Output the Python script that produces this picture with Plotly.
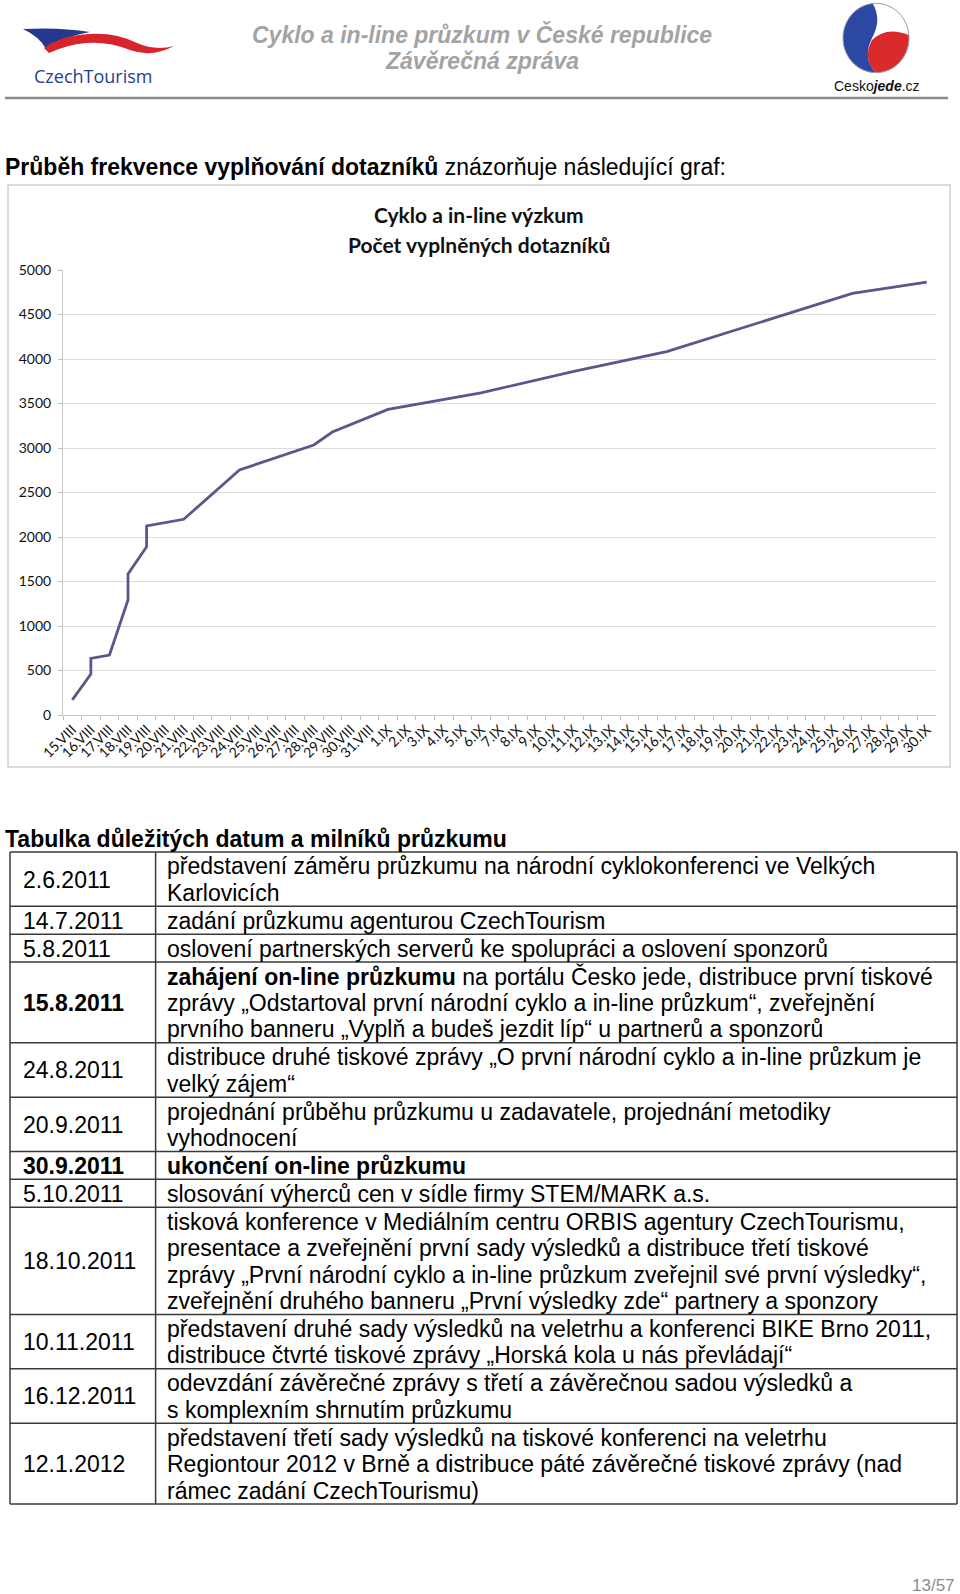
import math
import plotly.graph_objects as go

W, H = 960, 1594

# ---------------- chart data ----------------
day_labels = [f"{d}.VIII" for d in range(15, 32)] + [f"{d}.IX" for d in range(1, 31)]
obs_dates = ["15.VIII", "16.VIII", "16.VIII", "17.VIII", "18.VIII", "18.VIII", "19.VIII", "19.VIII",
             "21.VIII", "24.VIII", "28.VIII", "29.VIII", "1.IX", "6.IX", "11.IX", "16.IX", "26.IX", "30.IX"]
obs_counts = [170, 460, 637, 674, 1292, 1584, 1891, 2124,
              2199, 2753, 3034, 3180, 3434, 3620, 3860, 4082, 4738, 4865]
y_ticks = [0, 500, 1000, 1500, 2000, 2500, 3000, 3500, 4000, 4500, 5000]

# ---------------- table data ----------------
milestone_dates = ["2.6.2011", "14.7.2011", "5.8.2011", "15.8.2011", "24.8.2011", "20.9.2011",
                   "30.9.2011", "5.10.2011", "18.10.2011", "10.11.2011", "16.12.2011", "12.1.2012"]
milestone_bold = [False, False, False, True, False, False, True, False, False, False, False, False]
milestone_text = [
    ["představení záměru průzkumu na národní cyklokonferenci ve Velkých", "Karlovicích"],
    ["zadání průzkumu agenturou CzechTourism"],
    ["oslovení partnerských serverů ke spolupráci a oslovení sponzorů"],
    ["<b>zahájení on-line průzkumu</b> na portálu Česko jede, distribuce první tiskové",
     "zprávy „Odstartoval první národní cyklo a in-line průzkum“, zveřejnění",
     "prvního banneru „Vyplň a budeš jezdit líp“ u partnerů a sponzorů"],
    ["distribuce druhé tiskové zprávy „O první národní cyklo a in-line průzkum je", "velký zájem“"],
    ["projednání průběhu průzkumu u zadavatele, projednání metodiky", "vyhodnocení"],
    ["<b>ukončení on-line průzkumu</b>"],
    ["slosování výherců cen v sídle firmy STEM/MARK a.s."],
    ["tisková konference v Mediálním centru ORBIS agentury CzechTourismu,",
     "presentace a zveřejnění první sady výsledků a distribuce třetí tiskové",
     "zprávy „První národní cyklo a in-line průzkum zveřejnil své první výsledky“,",
     "zveřejnění druhého banneru „První výsledky zde“ partnery a sponzory"],
    ["představení druhé sady výsledků na veletrhu a konferenci BIKE Brno 2011,",
     "distribuce čtvrté tiskové zprávy „Horská kola u nás převládají“"],
    ["odevzdání závěrečné zprávy s třetí a závěrečnou sadou výsledků a",
     "s komplexním shrnutím průzkumu"],
    ["představení třetí sady výsledků na tiskové konferenci na veletrhu",
     "Regiontour 2012 v Brně a distribuce páté závěrečné tiskové zprávy (nad",
     "rámec zadání CzechTourismu)"],
]


def px(x):
    return x / W


def py(y):
    return 1 - y / H


def path(cmds):
    out = []
    for c in cmds:
        op, pts = c[0], c[1:]
        s = op
        for (x, y) in pts:
            s += f" {px(x):.5f},{py(y):.5f}"
        out.append(s)
    return " ".join(out) + " Z"


BODY = "Liberation Sans, Arial, sans-serif"
CHART = "Lato, Open Sans, sans-serif"
FS = 23

fig = go.Figure()
fig.add_trace(go.Scatter(
    x=obs_dates, y=obs_counts, mode="lines",
    line=dict(color="#58588a", width=2.8),
    showlegend=False, hoverinfo="x+y",
))

plot_l, plot_r, plot_t, plot_b = 63, 936, 270, 715

shapes = []
annotations = []

# chart frame
shapes.append(dict(type="rect", xref="paper", yref="paper", x0=px(8), x1=px(950), y0=py(767), y1=py(185),
                   line=dict(color="#d0d0d0", width=1.5), fillcolor="rgba(0,0,0,0)", layer="below"))

# header line
shapes.append(dict(type="line", xref="paper", yref="paper", x0=px(5), x1=px(948), y0=py(98), y1=py(98),
                   line=dict(color="#8a8a8a", width=2.5)))

# header title
annotations.append(dict(xref="paper", yref="paper", x=px(482), y=py(34), xanchor="center", yanchor="middle",
                        text="<b><i>Cyklo a in-line průzkum v České republice</i></b>", showarrow=False,
                        font=dict(family=BODY, size=23, color="#a3a3a3")))
annotations.append(dict(xref="paper", yref="paper", x=px(482), y=py(61), xanchor="center", yanchor="middle",
                        text="<b><i>Závěrečná zpráva</i></b>", showarrow=False,
                        font=dict(family=BODY, size=23, color="#a3a3a3")))

# CzechTourism logo
shapes.append(dict(type="path", xref="paper", yref="paper", line=dict(width=0), fillcolor="#25378f",
                   path=path([("M", (23, 29)), ("Q", (60, 27), (90, 32)), ("Q", (62, 37), (46, 49)),
                              ("Q", (40, 37), (23, 29))])))
shapes.append(dict(type="path", xref="paper", yref="paper", line=dict(width=0), fillcolor="#d8232a",
                   path=path([("M", (44, 48)), ("Q", (60, 36), (88, 34)), ("Q", (115, 32), (137, 43)),
                              ("Q", (155, 51), (174, 46)), ("Q", (152, 58), (130, 50)),
                              ("Q", (108, 41), (86, 43)), ("Q", (66, 45), (49, 53))])))
annotations.append(dict(xref="paper", yref="paper", x=px(32), y=py(76), xanchor="left", yanchor="middle",
                        text="CzechTourism", showarrow=False,
                        font=dict(family="Open Sans, sans-serif", size=18, color="#25408f")))

# Ceskojede logo (circle)
cx, cy, r = 876, 38, 33


def circ(a):
    return (cx + r * math.cos(math.radians(a)), cy - r * 1.05 * math.sin(math.radians(a)))


blue_pts = [circ(a) for a in range(95, 275, 5)]
blue_cmds = [("M", blue_pts[0])] + [("L", p) for p in blue_pts[1:]]
blue_cmds += [("Q", (862, 58), (872, 38)), ("Q", (882, 20), (873, 4))]
shapes.append(dict(type="path", xref="paper", yref="paper", line=dict(width=0), fillcolor="#2b49a3",
                   path=path(blue_cmds)))
red_pts = [circ(a) for a in range(5, -95, -5)]
red_cmds = [("M", red_pts[0])] + [("L", p) for p in red_pts[1:]]
red_cmds += [("Q", (862, 58), (872, 40)), ("Q", (886, 26), (909, 35))]
shapes.append(dict(type="path", xref="paper", yref="paper", line=dict(width=0), fillcolor="#d92b2b",
                   path=path(red_cmds)))
ring = [circ(a) for a in range(0, 360, 5)]
shapes.append(dict(type="path", xref="paper", yref="paper", line=dict(color="#9a9a9a", width=1),
                   fillcolor="rgba(0,0,0,0)",
                   path=path([("M", ring[0])] + [("L", p) for p in ring[1:]])))
annotations.append(dict(xref="paper", yref="paper", x=px(877), y=py(86), xanchor="center", yanchor="middle",
                        text="Cesko<b><i>jede</i></b>.cz", showarrow=False,
                        font=dict(family=BODY, size=14, color="#111")))

# intro sentence
annotations.append(dict(xref="paper", yref="paper", x=px(3), y=py(167), xanchor="left", yanchor="middle",
                        text="<b>Průběh frekvence vyplňování dotazníků</b> znázorňuje následující graf:",
                        showarrow=False, font=dict(family=BODY, size=FS, color="#000")))

# chart title
annotations.append(dict(xref="paper", yref="paper", x=px(479), y=py(214), xanchor="center", yanchor="middle",
                        text="<b>Cyklo a in-line výzkum</b>", showarrow=False,
                        font=dict(family=CHART, size=21, color="#111")))
annotations.append(dict(xref="paper", yref="paper", x=px(479), y=py(244), xanchor="center", yanchor="middle",
                        text="<b>Počet vyplněných dotazníků</b>", showarrow=False,
                        font=dict(family=CHART, size=21, color="#111")))

# table heading
annotations.append(dict(xref="paper", yref="paper", x=px(3), y=py(839), xanchor="left", yanchor="middle",
                        text="<b>Tabulka důležitých datum a milníků průzkumu</b>",
                        showarrow=False, font=dict(family=BODY, size=FS, color="#000")))

# table
LINE_H, PAD = 26.5, 1.33
t_left, t_div, t_right = 10, 155.6, 957
y = 852
bounds = [y]
for i, lines in enumerate(milestone_text):
    h = len(lines) * LINE_H + PAD
    top = y
    d = milestone_dates[i]
    annotations.append(dict(xref="paper", yref="paper", x=px(21), y=py(top + h / 2 + 0.5),
                            xanchor="left", yanchor="middle",
                            text=f"<b>{d}</b>" if milestone_bold[i] else d, showarrow=False,
                            font=dict(family=BODY, size=FS, color="#000")))
    for j, ln in enumerate(lines):
        annotations.append(dict(xref="paper", yref="paper", x=px(165), y=py(top + PAD / 2 + LINE_H * (j + 0.5) + 0.5),
                                xanchor="left", yanchor="middle", text=ln, showarrow=False,
                                font=dict(family=BODY, size=FS, color="#000")))
    y += h
    bounds.append(y)

for b in bounds:
    shapes.append(dict(type="line", xref="paper", yref="paper", x0=px(t_left), x1=px(t_right), y0=py(b), y1=py(b),
                       line=dict(color="#3a3a3a", width=1.5)))
for xv in (t_left, t_div, t_right):
    shapes.append(dict(type="line", xref="paper", yref="paper", x0=px(xv), x1=px(xv), y0=py(bounds[0]),
                       y1=py(bounds[-1]), line=dict(color="#3a3a3a", width=1.5)))

# page number
annotations.append(dict(xref="paper", yref="paper", x=px(957), y=py(1585), xanchor="right", yanchor="middle",
                        text="13/57", showarrow=False, font=dict(family=BODY, size=17, color="#8c8c8c")))

fig.update_layout(
    width=W, height=H, margin=dict(l=0, r=0, t=0, b=0, pad=0, autoexpand=False),
    paper_bgcolor="white", plot_bgcolor="white",
    showlegend=False, shapes=shapes, annotations=annotations,
    xaxis=dict(domain=[px(plot_l), px(plot_r)], type="category", categoryorder="array",
               categoryarray=day_labels, tickmode="array", tickvals=day_labels, ticktext=day_labels,
               range=[-0.5, len(day_labels) - 0.5], automargin=False,
               tickson="boundaries", ticks="outside", ticklen=4, tickcolor="#bfbfbf",
               tickangle=-45, showline=True, linecolor="#c8c8c8", linewidth=1, showgrid=False,
               tickfont=dict(family=CHART, size=14, color="#111"), fixedrange=True),
    yaxis=dict(domain=[py(plot_b), py(plot_t)], range=[0, 5000], tickvals=y_ticks, automargin=False,
               ticks="outside", ticklen=4, tickcolor="#bfbfbf", showline=True, linecolor="#c8c8c8",
               gridcolor="#dcdcdc", gridwidth=1, zeroline=False,
               tickfont=dict(family=CHART, size=14, color="#111"), ticklabelstandoff=4, fixedrange=True),
)

fig.write_html("out.html", config={"responsive": False})
